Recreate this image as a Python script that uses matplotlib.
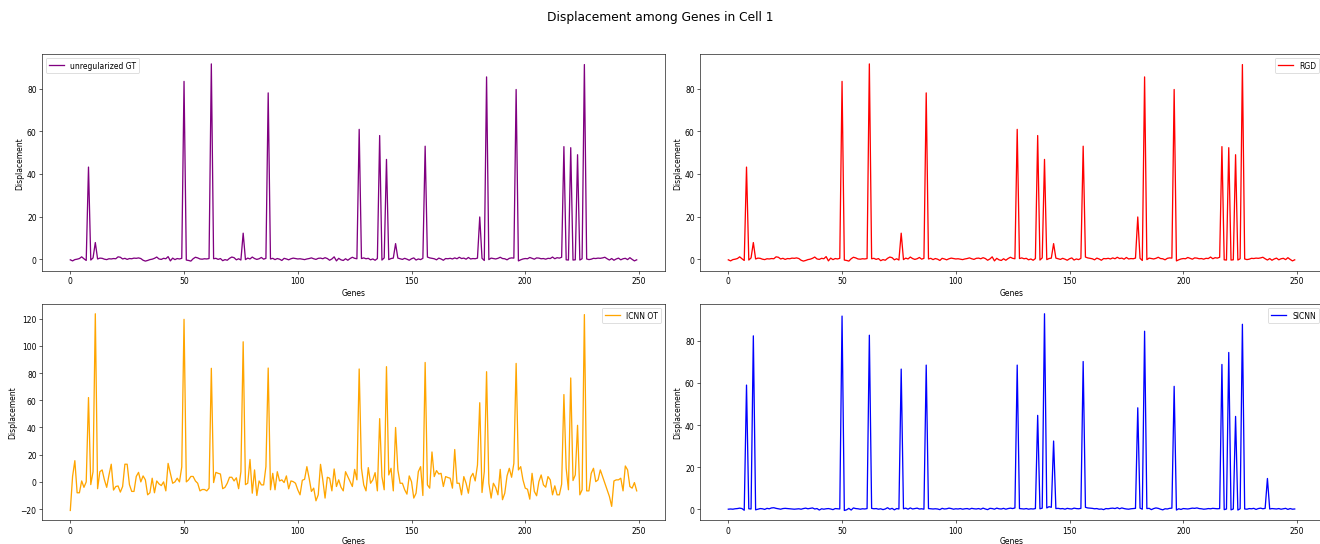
import matplotlib
matplotlib.use("Agg")
import matplotlib.pyplot as plt
import numpy as np

# displacement values, one per gene (0..249)
gt = [
    -0.3, -0.8, -0.2, 0.0, 0.3, 1.1, 0.2, -0.6, 43.2, -0.4,
    0.6, 7.8, 0.1, 0.5, 0.4, 0.0, -0.2, 0.2, 0.1, 0.3,
    0.2, 1.1, 0.9, 0.1, 0.4, -0.1, 0.3, 0.2, 0.5, 0.4,
    0.6, 0.3, -0.5, -0.9, -0.6, -0.2, 0.0, 0.4, 1.0, 0.1,
    -0.1, 0.4, 0.2, 1.2, -0.8, 0.5, -0.2, 0.3, 0.1, 0.4,
    83.4, -0.4, -0.6, -0.9, 0.2, 0.9, 0.6, 0.1, 0.0, 0.2,
    0.1, 0.3, 91.6, 0.2, 0.4, -0.1, 0.3, -0.7, -0.2, -0.5,
    0.4, 1.0, 0.7, -0.3, 0.2, -0.4, 12.2, -0.2, 0.5, 0.1,
    1.0, 0.3, -0.1, 0.2, 0.8, 0.0, 0.4, 78.0, 0.1, 0.4,
    -0.2, 0.3, 0.0, -0.6, 0.4, 0.1, -0.3, 0.2, 0.5, 0.3,
    0.1, 0.2, 0.0, -0.2, 0.1, 0.3, 0.6, 0.2, -0.1, 0.4,
    0.5, 0.2, 0.7, 0.3, -0.5, 0.1, 1.1, -0.8, 0.4, -0.3,
    -0.6, 0.2, -0.5, 0.3, 0.9, 0.4, 0.2, 60.9, 0.3, 0.6,
    0.2, 0.4, -0.3, 0.1, -0.5, 0.3, 58.0, -0.4, 0.6, 46.8,
    -0.2, 0.3, 0.5, 7.3, 0.5, 0.2, -0.1, 0.4, 0.0, -0.5,
    0.2, 0.6, -0.4, 0.1, -0.2, 0.4, 53.0, 1.0, 0.6, 0.4,
    0.2, -0.3, 0.5, 0.1, -0.5, 0.3, 0.2, 0.4, 0.1, 0.6,
    0.2, 0.9, 0.3, 0.5, 0.0, 0.8, 0.1, 0.3, 0.2, 0.5,
    19.8, 0.4, -0.6, 85.5, -0.2, 0.5, 0.3, 0.1, 0.4, 0.9,
    0.3, 0.2, -0.3, 0.4, 0.6, 0.5, 79.6, -0.8, -0.3, 0.1,
    0.3, 0.2, 0.8, 0.4, 0.0, 0.6, 0.5, 0.2, 0.3, 0.0,
    0.4, 0.3, 1.0, 0.2, 0.7, 0.5, 0.9, 52.8, -0.3, -0.4,
    52.3, -0.4, -0.3, 49.0, -0.4, 0.2, 91.3, 0.1, -0.2, 0.0,
    0.4, 0.3, 0.5, 0.4, 0.6, 0.9, 0.2, -0.4, 0.3, -0.5,
    0.1, 0.5, -0.3, 0.2, 0.4, -0.2, 0.7, -0.1, -0.8, -0.3,
]

# RGD curve looks identical to the unregularized GT one
rgd = list(gt)

icnn = [
    -21.0, 4.0, 15.6, -8.0, -8.0, 0.7, -4.0, 0.0, 62.0, -2.0,
    7.5, 123.6, -5.0, 7.5, 8.8, 1.5, -4.0, 5.0, 13.0, -6.0,
    -3.4, -3.0, -7.5, -3.4, 13.0, 13.0, -2.0, -7.0, -7.0, 4.0,
    7.0, 0.0, 4.4, 1.5, -9.5, -8.0, 2.7, -8.0, 0.7, -1.5,
    -2.7, 0.0, -6.6, 13.6, 6.3, -1.0, 0.0, 2.7, 0.0, 11.0,
    119.5, 0.0, 1.5, 4.0, 4.0, 0.7, -1.0, -6.6, -5.6, -5.6,
    -6.6, -4.6, 83.5, -0.5, 7.0, 6.3, 5.8, -5.0, -4.0, -1.0,
    3.4, 3.4, 0.7, 3.0, -5.0, 7.5, 103.0, -2.0, -1.0, 16.5,
    -8.3, 8.8, -10.0, 0.7, -2.2, -2.2, 11.2, 83.7, -5.8, 6.3,
    -5.8, 7.5, 0.7, 1.5, -0.5, 4.4, -5.1, 0.7, 0.2, -1.0,
    -5.8, -9.5, 1.2, 1.9, 11.2, 2.7, -7.0, -4.6, -13.9, -9.5,
    12.9, 1.5, -11.9, 3.4, 2.7, -6.6, 9.5, -3.4, 1.5, -3.9,
    -6.6, 7.5, 3.9, 0.2, -3.4, 9.2, 1.5, 83.0, 10.0, -2.2,
    -6.6, 10.5, -1.0, 1.5, 6.8, -6.6, 46.5, 3.9, -5.8, 84.7,
    5.1, 10.0, -6.6, 40.0, 8.8, -1.0, -1.0, -5.8, -9.0, 4.4,
    0.2, -11.9, -8.3, 7.5, 11.2, -10.0, 87.8, -2.2, -4.6, 22.0,
    3.9, 8.3, 5.8, 6.3, -3.4, 3.9, 3.2, 2.7, -4.6, 23.8,
    -1.0, -1.0, -9.5, 3.9, -1.0, -8.3, 3.4, 6.3, 0.7, 12.4,
    58.2, -7.8, 7.5, 81.0, -1.0, -11.9, -1.0, -4.1, -9.5, 9.2,
    -13.1, -8.3, 4.4, 10.0, 3.4, 13.6, 87.1, 8.8, 11.2, 1.5,
    -4.6, -5.4, -12.7, 6.3, -7.0, -10.2, 0.2, 5.1, -2.2, -3.9,
    3.9, 1.5, -9.5, -2.9, -9.5, -9.5, -1.7, 64.2, 10.0, -5.8,
    76.4, 1.0, 5.1, 41.6, -9.5, -5.8, 123.0, -6.6, -6.6, 6.3,
    10.0, 0.2, 1.5, 8.8, 3.9, -1.0, -5.8, -10.7, -18.0, 0.7,
    1.5, 1.5, 2.7, -6.6, 11.7, 8.8, -3.4, -4.6, -0.5, -6.6,
]

sicnn = [
    0.0, 0.1, 0.0, 0.2, 0.3, 0.5, 0.3, -0.5, 59.0, 0.2,
    0.1, 82.4, -0.3, 0.0, 0.3, 0.2, -0.1, 0.4, 0.2, 0.6,
    0.7, 0.4, 0.2, 0.0, 0.3, 0.4, 0.3, 0.2, 0.1, 0.0,
    0.1, 0.2, 0.0, 0.3, 0.5, 0.2, 0.4, 0.6, 0.1, 0.3,
    -0.4, 0.2, 0.0, 0.2, 0.3, 0.1, -0.2, 0.3, 0.2, 0.1,
    91.8, -0.6, -0.3, 0.4, -0.4, 0.6, 0.3, 0.2, 0.0, 0.2,
    0.1, 0.3, 82.7, 0.4, 0.2, 0.3, 0.0, 0.2, -0.2, 0.1,
    0.7, 0.0, 0.4, -0.3, 0.3, 0.1, 66.6, 0.2, 0.5, 0.0,
    0.6, 0.1, 0.3, 0.5, 0.1, 0.2, 0.0, 68.5, 0.3, 0.2,
    0.1, 0.2, 0.1, -0.2, 0.4, 0.1, 0.2, 0.5, 0.3, 0.0,
    0.2, 0.1, 0.3, 0.0, 0.2, 0.3, 0.0, 0.4, 0.2, 0.1,
    0.3, 0.0, 0.5, 0.1, -0.2, 0.4, 0.3, 0.0, 0.5, 0.2,
    0.1, 0.4, 0.0, 0.3, 0.5, 0.3, 0.6, 68.5, 0.3, 0.2,
    0.1, 0.3, 0.0, 0.2, 0.1, 0.3, 44.6, 0.2, 0.5, 92.9,
    0.6, 1.2, 0.9, 32.4, 0.3, 0.4, 0.2, 0.3, 0.0, 0.4,
    0.2, 0.1, 0.5, 0.3, 0.2, 0.4, 70.2, 0.9, 0.6, 0.5,
    0.4, 0.2, 0.3, 0.0, 0.1, -0.2, 0.3, 0.2, 0.4, 0.5,
    0.3, 0.7, 0.2, 0.6, 0.3, 0.1, 0.0, 0.2, 0.3, 0.4,
    48.2, 0.5, 0.0, 84.6, 0.3, 0.4, -0.2, 0.3, 0.6, 0.4,
    0.0, -0.3, 0.2, 0.1, 0.4, 0.5, 58.4, -0.4, 0.2, -0.1,
    0.3, 0.2, 0.1, 0.3, 0.5, 0.4, 0.6, 0.3, 0.2, 0.0,
    0.1, 0.3, 0.2, 0.4, 0.3, 0.2, 0.3, 68.8, -0.2, 0.1,
    74.5, -0.3, 0.1, 44.1, -0.4, 0.2, 87.9, 0.1, 0.0, 0.3,
    0.2, 0.4, -0.1, 0.3, 0.5, 0.2, 0.4, 14.6, 0.1, 0.3,
    0.2, 0.1, 0.3, 0.0, 0.2, 0.4, -0.1, 0.3, 0.0, 0.1,
]

genes = np.arange(len(gt))

panels = [
    (gt, "purple", "unregularized GT", "upper left"),
    (rgd, "red", "RGD", "upper right"),
    (icnn, "orange", "ICNN OT", "upper right"),
    (sicnn, "blue", "SICNN", "upper right"),
]

# original figure is 24 x ~9.9 inches, saved small
fig = plt.figure(figsize=(24, 9.909), dpi=55)
fig.suptitle("Displacement among Genes in Cell 1", fontsize=16)

rects = [
    [0.0318, 0.501, 0.472, 0.398],
    [0.5303, 0.501, 0.472, 0.398],
    [0.0318, 0.0435, 0.472, 0.397],
    [0.5303, 0.0435, 0.472, 0.397],
]

for k, (rect, (vals, col, name, where)) in enumerate(zip(rects, panels)):
    ax = fig.add_axes(rect)
    ax.plot(genes, vals, color=col, label=name, lw=1.7)
    # bottom row labels sit right at the figure edge
    ax.set_xlabel("Genes", labelpad=2 if k >= 2 else 4)
    ax.set_ylabel("Displacement")
    ax.legend(loc=where)

fig.savefig("out.png", dpi=55)
